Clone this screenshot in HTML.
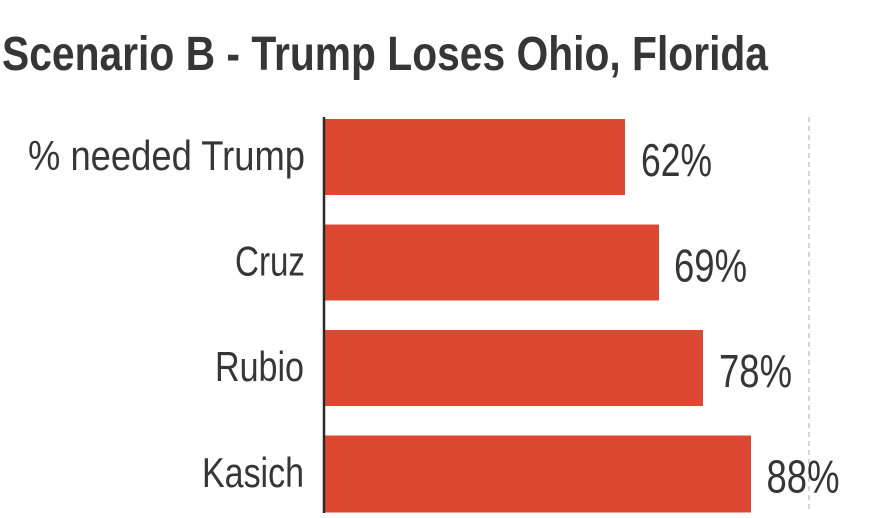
<!DOCTYPE html>
<html>
<head>
<meta charset="utf-8">
<style>
html,body{margin:0;padding:0;background:#fff;}
svg{display:block;}
text{font-family:"Liberation Sans",Arial,sans-serif;fill:#363636;}
</style>
</head>
<body>
<svg width="880" height="518" viewBox="0 0 880 518" xmlns="http://www.w3.org/2000/svg">
  <rect x="0" y="0" width="880" height="518" fill="#fff"/>
  <!-- Title -->
  <text x="2" y="70" font-size="48" font-weight="bold" textLength="766" lengthAdjust="spacingAndGlyphs">Scenario B - Trump Loses Ohio, Florida</text>

  <!-- 100% dashed reference line -->
  <line x1="809" y1="117" x2="809" y2="512" stroke="#d6d6d6" stroke-width="2" stroke-dasharray="5,4"/>

  <!-- Bars -->
  <rect x="325" y="119" width="300" height="76" fill="#dd4832"/>
  <rect x="325" y="224.5" width="334" height="76" fill="#dd4832"/>
  <rect x="325" y="330" width="378" height="76" fill="#dd4832"/>
  <rect x="325" y="435.5" width="426" height="77" fill="#dd4832"/>

  <!-- Axis line -->
  <line x1="324" y1="117" x2="324" y2="513" stroke="#2a2a2a" stroke-width="2.5"/>

  <!-- Category labels -->
  <text x="305" y="170" font-size="42" text-anchor="end" textLength="277" lengthAdjust="spacingAndGlyphs">% needed Trump</text>
  <text x="305" y="275.5" font-size="42" text-anchor="end" textLength="70" lengthAdjust="spacingAndGlyphs">Cruz</text>
  <text x="304" y="381" font-size="42" text-anchor="end" textLength="89" lengthAdjust="spacingAndGlyphs">Rubio</text>
  <text x="304" y="487" font-size="42" text-anchor="end" textLength="102" lengthAdjust="spacingAndGlyphs">Kasich</text>

  <!-- Value labels -->
  <text x="641" y="176" font-size="46" textLength="71" lengthAdjust="spacingAndGlyphs">62%</text>
  <text x="674" y="281.5" font-size="46" textLength="73" lengthAdjust="spacingAndGlyphs">69%</text>
  <text x="719" y="387" font-size="46" textLength="73" lengthAdjust="spacingAndGlyphs">78%</text>
  <text x="766.5" y="492.5" font-size="46" textLength="73" lengthAdjust="spacingAndGlyphs">88%</text>
</svg>
</body>
</html>
